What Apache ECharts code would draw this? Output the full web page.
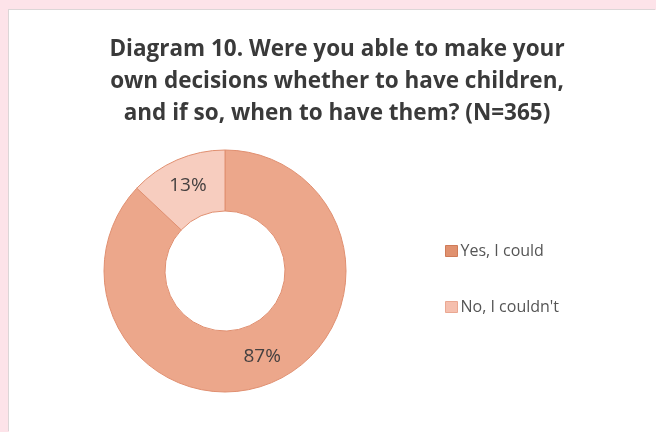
<!DOCTYPE html>
<html>
<head>
<meta charset="utf-8">
<script src="https://cdn.jsdelivr.net/npm/echarts@6/dist/echarts.min.js"></script>
<style>
  html, body { margin: 0; padding: 0; width: 656px; height: 432px; background: #fde3e9; overflow: hidden; }
  #chart { position: absolute; left: 9px; top: 10px; width: 647px; height: 422px; background: #ffffff;
           box-shadow: -1px -1px 0 #dcd6d7; }
</style>
</head>
<body>
<div id="chart"></div>
<script>
const titleLines = [
  'Diagram 10. Were you able to make your',
  'own decisions whether to have children,',
  'and if so, when to have them? (N=365)'
];
const categories = ['Yes, I could', "No, I couldn't"];
const shares = [87, 13];
const sliceColors = ['#eca78b', '#f7cdbf'];
const legendColors = ['#e0916f', '#f5bfae'];
const legendBorders = ['#cf7b58', '#eaa892'];

const chart = echarts.init(document.getElementById('chart'), null, { renderer: 'canvas' });
chart.setOption({
  animation: false,
  title: {
    text: titleLines.join('\n'),
    left: 323,
    top: 19,
    textAlign: 'center',
    textStyle: {
      fontFamily: 'Open Sans',
      fontSize: 22.5,
      fontWeight: 'bold',
      color: '#3a3a3a',
      lineHeight: 32
    }
  },
  legend: {
    orient: 'vertical',
    left: 431,
    top: 228,
    itemWidth: 12,
    itemHeight: 11,
    itemGap: 40,
    icon: 'rect',
    textStyle: { fontFamily: 'Open Sans', fontSize: 16, color: '#555555', padding: [0, 0, 0, -2] },
    data: categories.map((name, i) => ({
      name,
      itemStyle: { color: legendColors[i], borderColor: legendBorders[i], borderWidth: 1 }
    }))
  },
  series: [{
    type: 'pie',
    center: [216, 261],
    radius: [60, 121],
    startAngle: 90,
    clockwise: true,
    label: {
      show: true,
      position: 'inside',
      formatter: '{c}%',
      fontFamily: 'Open Sans',
      fontSize: 19,
      color: '#454040'
    },
    labelLine: { show: false },
    emphasis: { disabled: true },
    itemStyle: { borderColor: '#e08f70', borderWidth: 1 },
    data: categories.map((name, i) => ({
      name,
      value: shares[i],
      itemStyle: { color: sliceColors[i] }
    }))
  }]
});
</script>
</body>
</html>
